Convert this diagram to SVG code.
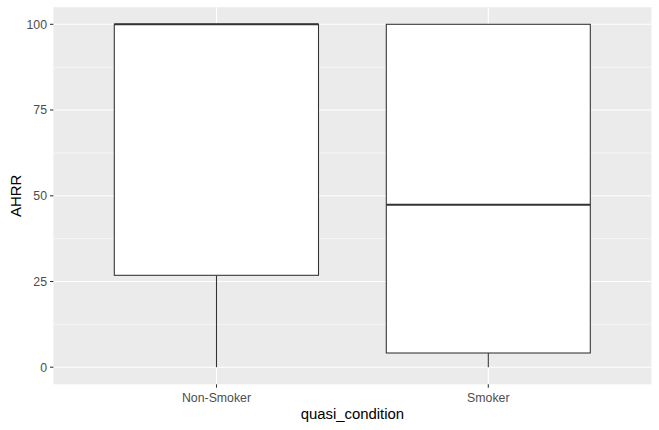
<svg xmlns="http://www.w3.org/2000/svg" width="659" height="430" viewBox="0 0 659 430">
<style>
.tick{font-family:"Liberation Sans",Arial,sans-serif;font-size:12.3px;fill:#4D4D4D}
.title{font-family:"Liberation Sans",Arial,sans-serif;font-size:14.9px;fill:#000000}
.major{stroke:#FFFFFF;stroke-width:1.07}
.minor{stroke:#FFFFFF;stroke-width:0.53}
.tk{stroke:#333333;stroke-width:1.07}
.box{fill:#FFFFFF;stroke:#333333;stroke-width:1.07}
.whisk{stroke:#333333;stroke-width:1.07}
.med{stroke:#333333;stroke-width:2.13}
</style>
<rect width="659" height="430" fill="#FFFFFF"/>
<g id="panel">
<rect x="53.4" y="7.2" width="598" height="377.1" fill="#EBEBEB"/>
<line class="minor" x1="53.4" x2="651.4" y1="324.3" y2="324.3"/>
<line class="minor" x1="53.4" x2="651.4" y1="238.6" y2="238.6"/>
<line class="minor" x1="53.4" x2="651.4" y1="152.9" y2="152.9"/>
<line class="minor" x1="53.4" x2="651.4" y1="67.2" y2="67.2"/>
<line class="major" x1="53.4" x2="651.4" y1="367.2" y2="367.2"/>
<line class="major" x1="53.4" x2="651.4" y1="281.5" y2="281.5"/>
<line class="major" x1="53.4" x2="651.4" y1="195.8" y2="195.8"/>
<line class="major" x1="53.4" x2="651.4" y1="110.0" y2="110.0"/>
<line class="major" x1="53.4" x2="651.4" y1="24.3" y2="24.3"/>
<line class="major" x1="216.5" x2="216.5" y1="7.2" y2="384.3"/>
<line class="major" x1="488.3" x2="488.3" y1="7.2" y2="384.3"/>
</g>
<g id="connectors">
<line class="whisk" x1="216.5" x2="216.5" y1="275.3" y2="367.2"/>
<line class="whisk" x1="488.3" x2="488.3" y1="353" y2="367.2"/>
</g>
<g id="box-nonsmoker">
<rect class="box" x="114.3" y="24.3" width="204.2" height="251"/>
<line class="med" x1="114.3" x2="318.5" y1="24.3" y2="24.3"/>
</g>
<g id="box-smoker">
<rect class="box" x="386.3" y="24.3" width="204" height="328.7"/>
<line class="med" x1="386.3" x2="590.3" y1="204.7" y2="204.7"/>
</g>
<g id="y-axis">
<line class="tk" x1="50" x2="53.4" y1="367.2" y2="367.2"/>
<line class="tk" x1="50" x2="53.4" y1="281.5" y2="281.5"/>
<line class="tk" x1="50" x2="53.4" y1="195.8" y2="195.8"/>
<line class="tk" x1="50" x2="53.4" y1="110.0" y2="110.0"/>
<line class="tk" x1="50" x2="53.4" y1="24.3" y2="24.3"/>
<text class="tick" text-anchor="end" x="47" y="371.6">0</text>
<text class="tick" text-anchor="end" x="47" y="285.9">25</text>
<text class="tick" text-anchor="end" x="47" y="200.2">50</text>
<text class="tick" text-anchor="end" x="47" y="114.4">75</text>
<text class="tick" text-anchor="end" x="47" y="28.7">100</text>
<text class="title" text-anchor="middle" transform="translate(20.5,195.8) rotate(-90)">AHRR</text>
</g>
<g id="x-axis">
<line class="tk" x1="216.5" x2="216.5" y1="384.3" y2="387.7"/>
<line class="tk" x1="488.3" x2="488.3" y1="384.3" y2="387.7"/>
<text class="tick" text-anchor="middle" x="216.5" y="401.8">Non-Smoker</text>
<text class="tick" text-anchor="middle" x="488.3" y="401.8">Smoker</text>
<text class="title" text-anchor="middle" x="352.4" y="419">quasi_condition</text>
</g>
</svg>
